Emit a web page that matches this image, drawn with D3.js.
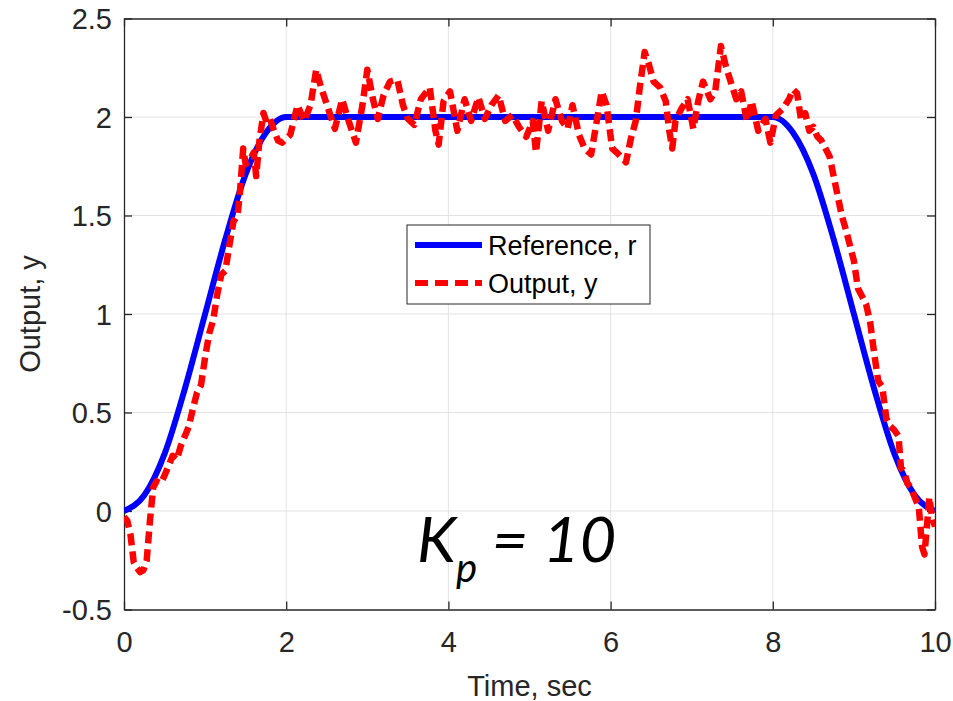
<!DOCTYPE html>
<html>
<head>
<meta charset="utf-8">
<script src="https://cdn.jsdelivr.net/npm/d3@7"></script>
<style>
  body { margin: 0; background: #fff; }
  svg { display: block; }
</style>
</head>
<body>
<script>
// reference trajectory r(t)
const refTime = [0, 0.25, 0.5, 0.75, 1, 1.25, 1.5, 1.75, 2, 4, 6, 8, 8.25, 8.5, 8.75, 9, 9.25, 9.5, 9.75, 10];
const refValue = [0, 0.08, 0.29, 0.62, 1.0, 1.38, 1.71, 1.92, 2.0, 2.0, 2.0, 2.0, 1.92, 1.71, 1.38, 1.0, 0.62, 0.29, 0.08, 0];

// noisy output y(t), [time, value]
const outputSamples = [
  [0, -0.03], [0.04, -0.05], [0.08, -0.12], [0.12, -0.26], [0.16, -0.29], [0.2, -0.31], [0.24, -0.3], [0.28, -0.25],
  [0.32, -0.05], [0.36, 0.12], [0.4, 0.15], [0.45, 0.14], [0.5, 0.18], [0.55, 0.23], [0.6, 0.28], [0.65, 0.26],
  [0.7, 0.33], [0.75, 0.38], [0.8, 0.43], [0.85, 0.52], [0.9, 0.6], [0.95, 0.64], [1.0, 0.78], [1.05, 0.9],
  [1.1, 0.97], [1.15, 1.1], [1.2, 1.2], [1.25, 1.22], [1.3, 1.35], [1.35, 1.47], [1.4, 1.5], [1.43, 1.62],
  [1.47, 1.84], [1.5, 1.76], [1.55, 1.78], [1.6, 1.82], [1.63, 1.7], [1.67, 1.88], [1.72, 2.02], [1.76, 1.97],
  [1.8, 1.99], [1.85, 1.93], [1.9, 1.88], [1.95, 1.87], [2.05, 1.91], [2.14, 2.06], [2.22, 1.98], [2.3, 2.06],
  [2.37, 2.24], [2.43, 2.15], [2.52, 2.04], [2.6, 1.94], [2.69, 2.09], [2.77, 1.98], [2.86, 1.87], [2.94, 2.06],
  [3.0, 2.24], [3.07, 2.09], [3.13, 1.99], [3.2, 2.11], [3.28, 2.18], [3.37, 2.19], [3.44, 2.06], [3.5, 1.99],
  [3.58, 1.96], [3.66, 2.09], [3.77, 2.15], [3.84, 1.93], [3.88, 1.86], [3.94, 2.08], [4.02, 2.13], [4.11, 1.93],
  [4.2, 2.09], [4.28, 1.98], [4.37, 2.1], [4.45, 1.99], [4.53, 2.06], [4.62, 2.11], [4.7, 1.98], [4.79, 2.01],
  [4.87, 1.95], [4.96, 1.9], [5.04, 1.98], [5.08, 1.82], [5.15, 2.08], [5.23, 1.93], [5.32, 2.09], [5.4, 1.98],
  [5.47, 1.94], [5.53, 2.06], [5.61, 1.91], [5.68, 1.84], [5.76, 1.81], [5.83, 1.98], [5.89, 2.13], [5.95, 2.06],
  [6.02, 1.84], [6.1, 1.81], [6.19, 1.77], [6.25, 1.89], [6.31, 1.98], [6.36, 2.15], [6.42, 2.33], [6.47, 2.27],
  [6.53, 2.18], [6.61, 2.15], [6.68, 2.08], [6.72, 1.94], [6.76, 1.84], [6.8, 1.98], [6.87, 2.04], [6.95, 2.09],
  [7.02, 1.94], [7.08, 2.08], [7.14, 2.18], [7.23, 2.09], [7.29, 2.13], [7.36, 2.36], [7.42, 2.26], [7.48, 2.18],
  [7.55, 2.09], [7.61, 2.13], [7.68, 1.98], [7.74, 2.08], [7.82, 1.93], [7.91, 1.99], [7.97, 1.87], [8.04, 2.01],
  [8.12, 2.04], [8.2, 2.09], [8.25, 2.14], [8.3, 2.12], [8.35, 1.98], [8.4, 2.02], [8.45, 1.93], [8.5, 1.95],
  [8.55, 1.9], [8.6, 1.88], [8.65, 1.84], [8.7, 1.8], [8.75, 1.7], [8.8, 1.6], [8.85, 1.5], [8.9, 1.43],
  [8.95, 1.35], [9.0, 1.27], [9.05, 1.13], [9.1, 1.09], [9.15, 1.05], [9.2, 0.96], [9.25, 0.8], [9.3, 0.66],
  [9.35, 0.63], [9.4, 0.47], [9.45, 0.43], [9.5, 0.41], [9.55, 0.38], [9.58, 0.22], [9.62, 0.2], [9.66, 0.14],
  [9.7, 0.12], [9.75, 0.07], [9.8, 0.02], [9.84, -0.18], [9.87, -0.22], [9.9, -0.08], [9.93, 0.07], [9.96, -0.02],
  [10, -0.08]
];

const xTicks = [0, 2, 4, 6, 8, 10];
const yTicks = [-0.5, 0, 0.5, 1, 1.5, 2, 2.5];
const legendLabels = ["Reference, r", "Output, y"];

const width = 953, height = 701;
const plotLeft = 124, plotRight = 935, plotTop = 18.5, plotBottom = 609.5;
const axisColor = "#262626";
const font = "'Liberation Sans', Arial, sans-serif";

const svg = d3.select("body").append("svg")
  .attr("width", width)
  .attr("height", height);

const x = d3.scaleLinear().domain([0, 10]).range([plotLeft, plotRight]);
const y = d3.scaleLinear().domain([-0.5, 2.5]).range([plotBottom, plotTop]);

// grid
svg.append("g").selectAll("line")
  .data(xTicks.slice(1, -1))
  .join("line")
  .attr("x1", d => x(d)).attr("x2", d => x(d))
  .attr("y1", plotTop).attr("y2", plotBottom)
  .attr("stroke", "#e3e3e3").attr("stroke-width", 1);
svg.append("g").selectAll("line")
  .data(yTicks.slice(1, -1))
  .join("line")
  .attr("x1", plotLeft).attr("x2", plotRight)
  .attr("y1", d => y(d)).attr("y2", d => y(d))
  .attr("stroke", "#e3e3e3").attr("stroke-width", 1);

// axes via d3 (ticks pointing inward)
const tickLen = 8;
const xAxis = svg.append("g")
  .attr("transform", `translate(0,${plotBottom})`)
  .call(d3.axisBottom(x).tickValues(xTicks).tickSizeInner(-tickLen).tickSizeOuter(0).tickPadding(22).tickFormat(d3.format("d")));
const yAxis = svg.append("g")
  .attr("transform", `translate(${plotLeft},0)`)
  .call(d3.axisLeft(y).tickValues(yTicks).tickSizeInner(-tickLen).tickSizeOuter(0).tickPadding(12).tickFormat(d => String(d)));
const xTop = svg.append("g")
  .attr("transform", `translate(0,${plotTop})`)
  .call(d3.axisTop(x).tickValues(xTicks).tickSizeInner(-tickLen).tickSizeOuter(0).tickFormat(""));
const yRight = svg.append("g")
  .attr("transform", `translate(${plotRight},0)`)
  .call(d3.axisRight(y).tickValues(yTicks).tickSizeInner(-tickLen).tickSizeOuter(0).tickFormat(""));

[xAxis, yAxis, xTop, yRight].forEach(g => {
  g.select(".domain").attr("stroke", axisColor).attr("stroke-width", 1.3);
  g.selectAll(".tick line").attr("stroke", axisColor).attr("stroke-width", 1.3);
  g.selectAll(".tick text")
    .attr("fill", axisColor)
    .style("font-family", font)
    .style("font-size", "29px");
});
xAxis.selectAll(".tick text").attr("dy", "0.71em");
yAxis.selectAll(".tick text").attr("dy", "0.35em");

// clip for data lines
svg.append("clipPath").attr("id", "plot-clip")
  .append("rect")
  .attr("x", plotLeft).attr("y", plotTop)
  .attr("width", plotRight - plotLeft).attr("height", plotBottom - plotTop);

const plot = svg.append("g").attr("clip-path", "url(#plot-clip)");

const refLine = d3.line()
  .x((d, i) => x(refTime[i]))
  .y(d => y(d))
  .curve(d3.curveMonotoneX);

plot.append("path")
  .datum(refValue)
  .attr("d", refLine)
  .attr("fill", "none")
  .attr("stroke", "#0000ff")
  .attr("stroke-width", 6);

const outLine = d3.line()
  .x(d => x(d[0]))
  .y(d => y(d[1]));

plot.append("path")
  .datum(outputSamples)
  .attr("d", outLine)
  .attr("fill", "none")
  .attr("stroke", "#ff0000")
  .attr("stroke-width", 6.5)
  .attr("stroke-dasharray", "12,6")
  .attr("stroke-linejoin", "round");

// axis titles
svg.append("text")
  .attr("x", (plotLeft + plotRight) / 2)
  .attr("y", 696)
  .attr("text-anchor", "middle")
  .attr("fill", axisColor)
  .style("font-family", font)
  .style("font-size", "29px")
  .text("Time, sec");

svg.append("text")
  .attr("transform", `translate(40,${(plotTop + plotBottom) / 2}) rotate(-90)`)
  .attr("text-anchor", "middle")
  .attr("fill", axisColor)
  .style("font-family", font)
  .style("font-size", "29px")
  .text("Output, y");

// legend
const legend = svg.append("g").attr("transform", "translate(407,225)");
legend.append("rect")
  .attr("width", 243).attr("height", 79)
  .attr("fill", "#fff")
  .attr("stroke", axisColor).attr("stroke-width", 1);
const legendStyles = [
  { color: "#0000ff", dash: null },
  { color: "#ff0000", dash: "13,7" }
];
legendLabels.forEach((label, i) => {
  const ly = 20 + i * 38;
  legend.append("line")
    .attr("x1", 8).attr("x2", 75)
    .attr("y1", ly).attr("y2", ly)
    .attr("stroke", legendStyles[i].color)
    .attr("stroke-width", 6)
    .attr("stroke-dasharray", legendStyles[i].dash);
  legend.append("text")
    .attr("x", 81).attr("y", ly + 10)
    .attr("fill", "#000")
    .style("font-family", font)
    .style("font-size", "27px")
    .text(label);
});

// K_p annotation
const kp = svg.append("text")
  .attr("x", 417).attr("y", 562)
  .attr("fill", "#000")
  .style("font-family", "Lato, 'Open Sans', sans-serif")
  .style("font-style", "italic")
  .style("font-size", "63px");
kp.append("tspan").text("K");
kp.append("tspan").attr("dy", 20).style("font-size", "40px").text("p");
kp.append("tspan").attr("dy", -20).text(" = 10");
</script>
</body>
</html>
